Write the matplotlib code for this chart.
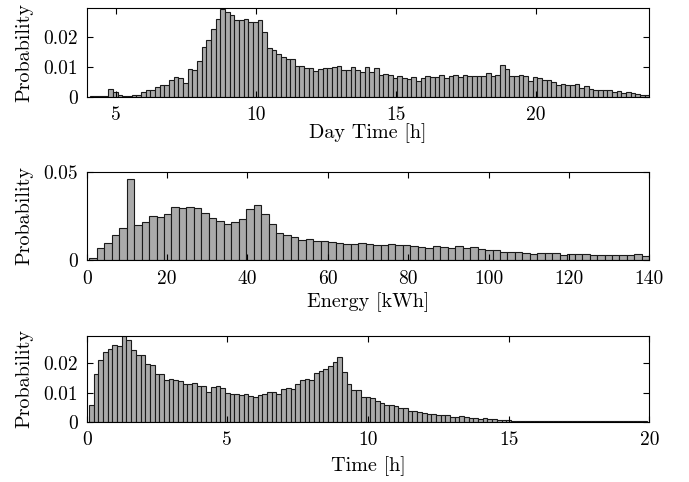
import numpy as np
import matplotlib
matplotlib.use('Agg')
import matplotlib.pyplot as plt

plt.rcParams.update({
    'font.family': 'serif', 'font.serif': ['cmr10'], 'font.size': 14,
    'axes.labelsize': 14.5,
    'axes.linewidth': 0.8, 'axes.unicode_minus': False,
    'xtick.direction': 'in', 'ytick.direction': 'in',
    'xtick.top': True, 'ytick.right': True,
    'xtick.major.size': 4, 'ytick.major.size': 4,
})

# --- panel 1: hora del dia (bins de 10 min) ---
day_start, day_width = 4.053, 1 / 6
day_prob = [
    0.0001, 0.0001, 0.0002, 0.0003, 0.0025, 0.0015, 0.0005, 0.0004, 0.0003, 0.0006,
    0.0005, 0.0015, 0.0021, 0.0022, 0.0031, 0.0040, 0.0038, 0.0056, 0.0065, 0.0063,
    0.0047, 0.0092, 0.0090, 0.0121, 0.0169, 0.0190, 0.0229, 0.0262, 0.0296, 0.0287,
    0.0274, 0.0257, 0.0257, 0.0262, 0.0253, 0.0251, 0.0257, 0.0219, 0.0165, 0.0157,
    0.0144, 0.0133, 0.0127, 0.0127, 0.0102, 0.0104, 0.0097, 0.0096, 0.0088, 0.0094,
    0.0096, 0.0096, 0.0100, 0.0104, 0.0091, 0.0091, 0.0099, 0.0090, 0.0083, 0.0099,
    0.0082, 0.0096, 0.0073, 0.0075, 0.0072, 0.0063, 0.0071, 0.0064, 0.0058, 0.0065,
    0.0053, 0.0063, 0.0069, 0.0065, 0.0065, 0.0072, 0.0062, 0.0069, 0.0072, 0.0066,
    0.0074, 0.0069, 0.0071, 0.0071, 0.0070, 0.0081, 0.0071, 0.0072, 0.0106, 0.0092,
    0.0071, 0.0069, 0.0073, 0.0069, 0.0053, 0.0066, 0.0062, 0.0056, 0.0057, 0.0049,
    0.0038, 0.0042, 0.0038, 0.0038, 0.0042, 0.0030, 0.0037, 0.0027, 0.0022, 0.0024,
    0.0024, 0.0021, 0.0017, 0.0019, 0.0012, 0.0016, 0.0012, 0.0010, 0.0007, 0.0007,
]

# --- panel 2: energia ---
energy_start, energy_end = 0.67, 140.0
energy_prob = [
    0.0009, 0.0070, 0.0094, 0.0143, 0.0181, 0.0458, 0.0196, 0.0213, 0.0247, 0.0245,
    0.0260, 0.0298, 0.0292, 0.0298, 0.0294, 0.0264, 0.0240, 0.0219, 0.0202, 0.0217,
    0.0230, 0.0289, 0.0309, 0.0258, 0.0206, 0.0155, 0.0140, 0.0130, 0.0111, 0.0117,
    0.0108, 0.0109, 0.0104, 0.0094, 0.0089, 0.0089, 0.0094, 0.0089, 0.0085,
    0.0085, 0.0089, 0.0083, 0.0083, 0.0077, 0.0072, 0.0068, 0.0077, 0.0074, 0.0066,
    0.0079, 0.0066, 0.0072, 0.0060, 0.0055, 0.0058, 0.0045, 0.0047, 0.0043, 0.0040,
    0.0034, 0.0042, 0.0038, 0.0042, 0.0030, 0.0034, 0.0034, 0.0034, 0.0030, 0.0026,
    0.0030, 0.0030, 0.0026, 0.0026, 0.0032, 0.0023,
]

# --- panel 3: duracion ---
time_start, time_width = 0.08, 1 / 6
time_prob = [
    0.0057, 0.0163, 0.0210, 0.0240, 0.0251, 0.0262, 0.0261, 0.0295, 0.0279, 0.0245,
    0.0229, 0.0230, 0.0197, 0.0193, 0.0163, 0.0163, 0.0143, 0.0147, 0.0144, 0.0139,
    0.0131, 0.0131, 0.0133, 0.0121, 0.0123, 0.0101, 0.0118, 0.0121, 0.0115, 0.0099,
    0.0094, 0.0094, 0.0090, 0.0094, 0.0088, 0.0085, 0.0093, 0.0095, 0.0103, 0.0102,
    0.0096, 0.0111, 0.0114, 0.0111, 0.0129, 0.0142, 0.0147, 0.0142, 0.0168, 0.0175,
    0.0182, 0.0190, 0.0206, 0.0223, 0.0171, 0.0131, 0.0110, 0.0109, 0.0086, 0.0086,
    0.0080, 0.0072, 0.0063, 0.0057, 0.0056, 0.0054, 0.0048, 0.0046, 0.0037, 0.0036,
    0.0034, 0.0031, 0.0028, 0.0025, 0.0024, 0.0022, 0.0023, 0.0017, 0.0017, 0.0018,
    0.0017, 0.0014, 0.0013, 0.0010, 0.0011, 0.0009, 0.0008, 0.0006, 0.0005, 0.0007,
    0.0004, 0.0004, 0.0004, 0.0003, 0.0004, 0.0003, 0.0002, 0.0003, 0.0002, 0.0002,
    0.0003, 0.0002, 0.0001, 0.0002, 0.0002, 0.0001, 0.0002, 0.0001, 0.0002, 0.0001,
    0.0001, 0.0002, 0.0001, 0.0001, 0.0002, 0.0001, 0.0001, 0.0002, 0.0001,
]

def bars(ax, edges, vals):
    edges = np.asarray(edges)
    ax.bar(edges[:-1], vals, width=np.diff(edges), align='edge',
           color='#aaaaaa', edgecolor='#1a1a1a', linewidth=0.8)

fig = plt.figure(figsize=(6.89, 4.82), dpi=100)
L, W = 0.1258, 0.8166
ax1 = fig.add_axes([L, 0.7994, W, 0.1834])
ax2 = fig.add_axes([L, 0.4606, W, 0.1832])
ax3 = fig.add_axes([L, 0.1251, W, 0.1784])

e1 = day_start + day_width * np.arange(len(day_prob) + 1)
bars(ax1, e1, day_prob)
ax1.set_xlim(3.95, 24.05); ax1.set_ylim(0, 0.0298)
ax1.set_xticks([5, 10, 15, 20]); ax1.set_xticklabels(['5', '10', '15', '20'])
ax1.set_yticks([0, 0.01, 0.02]); ax1.set_yticklabels(['0', '0.01', '0.02'])
ax1.set_xlabel('Day Time [h]', labelpad=-1)

e2 = np.linspace(energy_start, energy_end, len(energy_prob) + 1)
bars(ax2, e2, energy_prob)
ax2.set_xlim(0, 140); ax2.set_ylim(0, 0.05)
ax2.set_xticks(range(0, 141, 20)); ax2.set_xticklabels([str(v) for v in range(0, 141, 20)])
ax2.set_yticks([0, 0.05]); ax2.set_yticklabels(['0', '0.05'])
ax2.set_xlabel('Energy [kWh]', labelpad=3)

e3 = time_start + time_width * np.arange(len(time_prob) + 1)
bars(ax3, e3, time_prob)
ax3.set_xlim(0, 20); ax3.set_ylim(0, 0.0295)
ax3.set_xticks([0, 5, 10, 15, 20]); ax3.set_xticklabels(['0', '5', '10', '15', '20'])
ax3.set_yticks([0, 0.01, 0.02]); ax3.set_yticklabels(['0', '0.01', '0.02'])
ax3.set_xlabel('Time [h]', labelpad=5)

for ax in (ax1, ax2, ax3):
    ax.set_ylabel('Probability')
    ax.tick_params(axis='x', pad=7)
    ax.tick_params(axis='y', pad=6)
    ax.yaxis.set_label_coords(-0.095, 0.5)

fig.savefig('out.png', dpi=100)
